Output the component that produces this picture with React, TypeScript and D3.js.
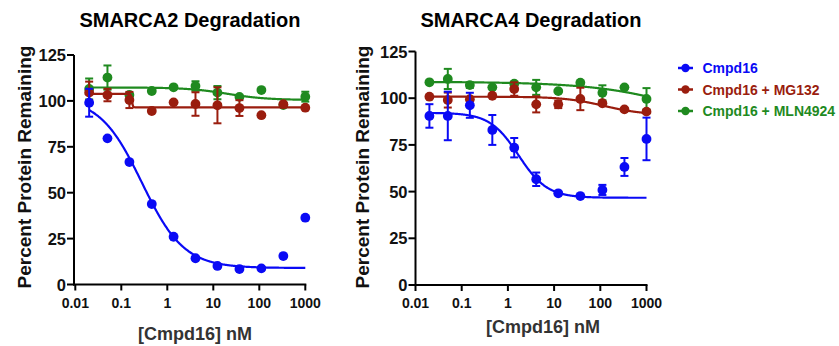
import React from "react";
import * as d3 from "d3";

// ---- data ----
const concentrations = [0.02, 0.05, 0.15, 0.46, 1.37, 4.1, 12.3, 37, 111, 333, 1000];
const xTicks = [0.01, 0.1, 1, 10, 100, 1000];
const xTickLabels = ["0.01", "0.1", "1", "10", "100", "1000"];
const yTicks = [0, 25, 50, 75, 100, 125];

const seriesNames = ["Cmpd16", "Cmpd16 + MG132", "Cmpd16 + MLN4924"];
const seriesColors = ["#0a0af5", "#9a1d0e", "#1f8a1f"];

// SMARCA2
const smarca2Cmpd16 = [99.0, 79.6, 66.7, 43.8, 26.0, 14.3, 10.1, 8.4, 8.8, 15.5, 36.4];
const smarca2Cmpd16Err = [7.6, 0, 0, 0, 0, 0, 0, 0, 0, 0, 0];
const smarca2MG132 = [104.5, 103.2, 100.5, 94.5, 99.2, 98.3, 97.6, 96.1, 92.2, 98.2, 96.3];
const smarca2MG132Err = [6, 3.4, 4.4, 0, 0, 6.4, 9.8, 4.3, 0, 0, 0];
const smarca2MLN = [106.5, 112.7, 103.2, 105.4, 107.4, 108.1, 104.5, 102.2, 105.9, 97.7, 102.3];
const smarca2MLNErr = [5.7, 6.6, 0, 0, 0, 2.6, 3.6, 0, 0, 0, 2.7];
// fitted curves: [top, bottom, IC50 (nM), hill slope]
const smarca2Fits = [
  [102, 9, 0.28, 0.95],
  [103.8, 96.5, 0.17, 40],
  [107.3, 100.5, 20, 1],
];

// SMARCA4
const smarca4Cmpd16 = [90.5, 90.5, 96.2, 83.0, 73.5, 56.6, 49.1, 47.6, 50.9, 63.2, 78.2];
const smarca4Cmpd16Err = [6.3, 13, 6.7, 8, 5.2, 3.6, 0, 0, 2.7, 4.8, 11.4];
const smarca4MG132 = [100.8, 99.0, 99.5, 101.3, 104.9, 96.7, 96.7, 99.6, 97.3, 94.0, 92.8];
const smarca4MG132Err = [0, 4, 0, 0, 3.6, 4.3, 2, 6, 0, 0, 0];
const smarca4MLN = [108.5, 110.3, 107.0, 105.8, 107.8, 105.8, 103.8, 108.3, 102.9, 105.8, 99.6];
const smarca4MLNErr = [0, 5.4, 1.5, 0, 0, 4, 0, 0, 4, 0, 5.8];
const smarca4Fits = [
  [92.2, 46.7, 1.7, 1.4],
  [100.8, 91, 120, 1],
  [108.8, 70, 31000, 0.4],
];

const FONT = "'Liberation Sans', Arial, Helvetica, sans-serif";

function hill(x: number, p: number[]) {
  const [top, bottom, ic50, h] = p;
  return bottom + (top - bottom) / (1 + Math.pow(x / ic50, h));
}

type PanelProps = {
  title: string;
  titleX: number;
  xRange: [number, number];
  yRange: [number, number];
  axisX: number;
  yLabelX: number;
  xLabelX: number;
  xLabelY: number;
  values: number[][];
  errors: number[][];
  fits: number[][];
};

function Panel(props: PanelProps) {
  const { title, titleX, xRange, yRange, axisX, yLabelX, xLabelX, xLabelY, values, errors, fits } = props;
  const x = d3.scaleLog().domain([0.01, 1000]).range(xRange);
  const y = d3.scaleLinear().domain([0, 125]).range(yRange);
  const lo = Math.log10(concentrations[0]);
  const hi = Math.log10(concentrations[concentrations.length - 1]);
  const samples = d3.range(0, 601).map((i) => Math.pow(10, lo + ((hi - lo) * i) / 600));
  const y0 = y(0);
  const order = [2, 1, 0];
  return (
    <g>
      <text x={titleX} y={27} textAnchor="middle" fontSize={20} fontWeight="bold" fill="#000">
        {title}
      </text>
      {/* axes */}
      <line x1={axisX} x2={axisX} y1={y(125)} y2={y0 + 1} stroke="#000" strokeWidth={2} />
      <line x1={axisX - 1} x2={x(1000) + 1} y1={y0} y2={y0} stroke="#000" strokeWidth={2} />
      {yTicks.map((t) => (
        <g key={"y" + t}>
          <line x1={axisX - 7} x2={axisX} y1={y(t)} y2={y(t)} stroke="#000" strokeWidth={2} />
          <text x={axisX - 8} y={y(t) + 6} textAnchor="end" fontSize={16.5} fontWeight="bold" fill="#111">
            {t}
          </text>
        </g>
      ))}
      {xTicks.map((t, i) => (
        <g key={"x" + t}>
          <line x1={x(t)} x2={x(t)} y1={y0} y2={y0 + 6} stroke="#000" strokeWidth={2} />
          <text x={x(t)} y={308} textAnchor="middle" fontSize={14} fontWeight="bold" fill="#111">
            {xTickLabels[i]}
          </text>
        </g>
      ))}
      <text
        transform={`translate(${yLabelX},167) rotate(-90)`}
        textAnchor="middle"
        fontSize={19}
        fontWeight="bold"
        fill="#111"
      >
        Percent Protein Remaining
      </text>
      <text x={xLabelX} y={xLabelY} textAnchor="middle" fontSize={18} fontWeight="bold" fill="#333">
        [Cmpd16] nM
      </text>
      {order.map((s) => {
        const color = seriesColors[s];
        const line = d3
          .line<number>()
          .x((d) => x(d))
          .y((d) => y(hill(d, fits[s])));
        return (
          <g key={"s" + s}>
            <path d={line(samples) || ""} fill="none" stroke={color} strokeWidth={2.2} />
            {concentrations.map((c, i) => {
              const e = errors[s][i];
              if (!e) return null;
              const cx = x(c);
              const yt = y(values[s][i] + e);
              const yb = y(values[s][i] - e);
              return (
                <g key={"e" + i} stroke={color} strokeWidth={2}>
                  <line x1={cx} x2={cx} y1={yt} y2={yb} />
                  <line x1={cx - 4} x2={cx + 4} y1={yt} y2={yt} />
                  <line x1={cx - 4} x2={cx + 4} y1={yb} y2={yb} />
                </g>
              );
            })}
            {concentrations.map((c, i) => (
              <circle key={"p" + i} cx={x(c)} cy={y(values[s][i])} r={4.9} fill={color} />
            ))}
          </g>
        );
      })}
    </g>
  );
}

export default function App() {
  const legendY = [68, 89.5, 111];
  return (
    <svg
      width={839}
      height={346}
      style={{ position: "absolute", left: 0, top: 0, background: "#fff" }}
      fontFamily={FONT}
    >
      <rect width={839} height={346} fill="#fff" />
      <Panel
        title="SMARCA2 Degradation"
        titleX={190}
        xRange={[75.3, 305.3]}
        yRange={[284.5, 55]}
        axisX={74}
        yLabelX={31}
        xLabelX={195}
        xLabelY={340}
        values={[smarca2Cmpd16, smarca2MG132, smarca2MLN]}
        errors={[smarca2Cmpd16Err, smarca2MG132Err, smarca2MLNErr]}
        fits={smarca2Fits}
      />
      <Panel
        title="SMARCA4 Degradation"
        titleX={531}
        xRange={[415.5, 646.5]}
        yRange={[285, 51.5]}
        axisX={415.5}
        yLabelX={369}
        xLabelX={543}
        xLabelY={333}
        values={[smarca4Cmpd16, smarca4MG132, smarca4MLN]}
        errors={[smarca4Cmpd16Err, smarca4MG132Err, smarca4MLNErr]}
        fits={smarca4Fits}
      />
      {seriesNames.map((name, i) => (
        <g key={name}>
          <line x1={678} x2={693} y1={legendY[i]} y2={legendY[i]} stroke={seriesColors[i]} strokeWidth={2.5} />
          <circle cx={685.5} cy={legendY[i]} r={4.2} fill={seriesColors[i]} />
          <text x={702.5} y={legendY[i] + 5} fontSize={14} fontWeight="bold" fill={seriesColors[i]}>
            {name}
          </text>
        </g>
      ))}
    </svg>
  );
}
